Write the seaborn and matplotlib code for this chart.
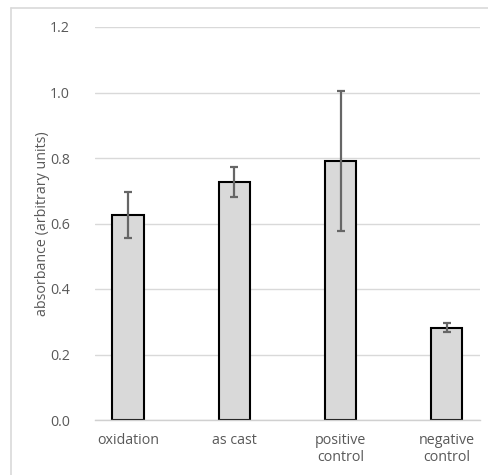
import matplotlib
matplotlib.use("Agg")
import matplotlib.pyplot as plt
import seaborn as sns
import pandas as pd
from matplotlib.lines import Line2D

categories = ["oxidation", "as cast", "positive\ncontrol", "negative\ncontrol"]
values = [0.626, 0.727, 0.792, 0.282]
errors = [0.071, 0.047, 0.214, 0.014]
yticks = [0.0, 0.2, 0.4, 0.6, 0.8, 1.0, 1.2]

sns.set_theme(style="white")
plt.rcParams["font.family"] = ["Open Sans", "DejaVu Sans"]

W, H = 489, 475
fig = plt.figure(figsize=(W / 100, H / 100), dpi=100)
ax = fig.add_axes([95 / W, (H - 420) / H, (480 - 95) / W, (420 - 27) / H])

df = pd.DataFrame({"category": categories, "value": values})
sns.barplot(data=df, x="category", y="value", color="#d9d9d9", width=0.3,
            edgecolor="black", linewidth=1.5, errorbar=None, saturation=1, ax=ax)
ax.errorbar(range(len(categories)), values, yerr=errors, fmt="none",
            ecolor="#666666", elinewidth=1.6, capsize=3, capthick=1.6, zorder=5)

ax.set_ylim(0, 1.2)
ax.set_yticks(yticks)
ax.set_yticklabels([f"{t:.1f}" for t in yticks])
ax.yaxis.grid(True, color="#d9d9d9", linewidth=1)
ax.set_axisbelow(True)
for s in ["top", "right", "left"]:
    ax.spines[s].set_visible(False)
ax.spines["bottom"].set_color("#d0d0d0")
ax.spines["bottom"].set_linewidth(1)
ax.tick_params(axis="both", length=0, labelsize=10.3, labelcolor="#595959")
ax.tick_params(axis="x", pad=9)
ax.tick_params(axis="y", pad=18)
ax.set_xlabel("")
ax.set_ylabel("absorbance (arbitrary units)", fontsize=10.3, color="#595959", labelpad=0)

# figure border
fig.add_artist(Line2D([11 / W, 1.0], [1 - 8 / H, 1 - 8 / H], color="#d9d9d9", lw=1.2, transform=fig.transFigure))
fig.add_artist(Line2D([11 / W, 11 / W], [0, 1 - 8 / H], color="#d9d9d9", lw=1.2, transform=fig.transFigure))

fig.savefig("out.png", dpi=100)
